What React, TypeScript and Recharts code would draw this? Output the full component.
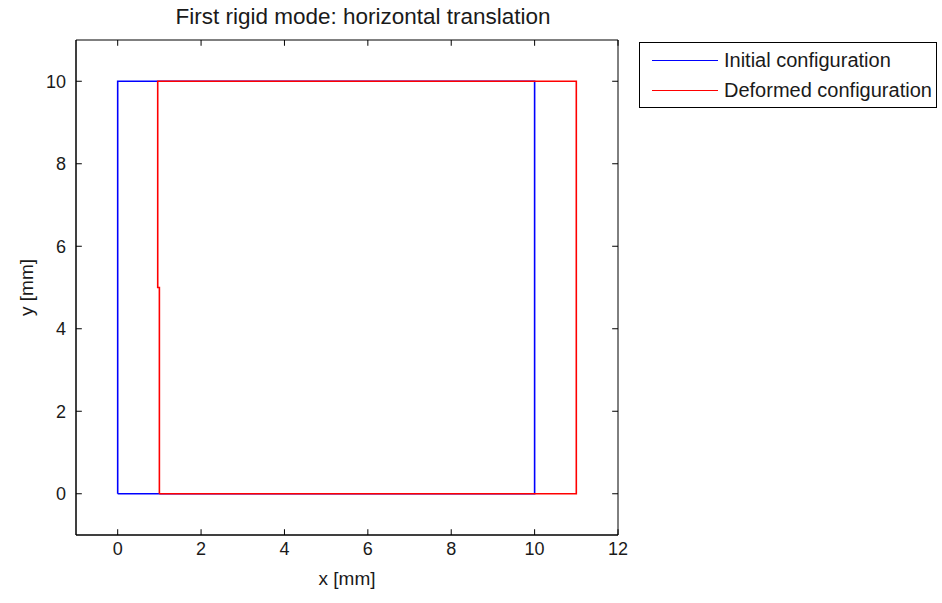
import {
  LineChart,
  Line,
  XAxis,
  YAxis,
  ReferenceLine,
  ReferenceArea,
  Label,
} from "recharts";

const initialConfig = [
  { x: 0, y: 0 },
  { x: 10, y: 0 },
  { x: 10, y: 10 },
  { x: 0, y: 10 },
  { x: 0, y: 0 },
];

const deformedConfig = [
  { x: 1, y: 0 },
  { x: 11, y: 0 },
  { x: 11, y: 10 },
  { x: 0.96, y: 10 },
  { x: 0.96, y: 5 },
  { x: 1, y: 5 },
  { x: 1, y: 0 },
];

const xTicks = [0, 2, 4, 6, 8, 10, 12];
const yTicks = [0, 2, 4, 6, 8, 10];
const xDomain: [number, number] = [-1, 12];
const yDomain: [number, number] = [-1, 11];

const FONT = "'Liberation Sans', Arial, sans-serif";
const INK = "#1a1a1a";
const tickStyle = { fill: INK, fontSize: 18, fontFamily: FONT };
const TICK_LEN = 0.14;

function Legend() {
  const row = (color: string, text: string) => (
    <div style={{ display: "flex", alignItems: "center", height: 30 }}>
      <div style={{ width: 66, height: 0, borderTop: `1.5px solid ${color}`, marginRight: 6 }} />
      <span>{text}</span>
    </div>
  );
  return (
    <div
      style={{
        position: "absolute",
        left: 639,
        top: 42,
        width: 284,
        padding: "2px 0 2px 12px",
        border: "1px solid #000",
        background: "#fff",
        fontFamily: FONT,
        fontSize: 20,
        color: INK,
        whiteSpace: "nowrap",
      }}
    >
      {row("#0000ff", "Initial configuration")}
      {row("#ff0000", "Deformed configuration")}
    </div>
  );
}

export default function App() {
  return (
    <div style={{ position: "absolute", left: 0, top: 0, width: 942, height: 603, background: "#fff" }}>
      <div
        style={{
          position: "absolute",
          left: 113,
          width: 500,
          top: 4,
          textAlign: "center",
          fontFamily: FONT,
          fontSize: 22.5,
          color: INK,
          whiteSpace: "nowrap",
        }}
      >
        First rigid mode: horizontal translation
      </div>
      <LineChart width={942} height={603} margin={{ top: 40, right: 324, bottom: 18, left: 16 }}>
        <XAxis
          type="number"
          dataKey="x"
          domain={xDomain}
          ticks={xTicks}
          allowDataOverflow
          tickSize={0}
          tickMargin={7}
          tickLine={false}
          axisLine={{ stroke: "#000" }}
          tick={tickStyle}
          height={50}
        >
          <Label
            value="x [mm]"
            position="insideBottom"
            offset={0}
            style={{ fill: INK, fontSize: 19, fontFamily: FONT }}
          />
        </XAxis>
        <YAxis
          type="number"
          dataKey="y"
          domain={yDomain}
          ticks={yTicks}
          allowDataOverflow
          tickSize={0}
          tickMargin={10}
          tickLine={false}
          axisLine={{ stroke: "#000" }}
          tick={tickStyle}
          width={60}
        >
          <Label
            value="y [mm]"
            angle={-90}
            position="insideLeft"
            offset={10}
            style={{ fill: INK, fontSize: 19, fontFamily: FONT, textAnchor: "middle" }}
          />
        </YAxis>
        <ReferenceArea
          x1={xDomain[0]}
          x2={xDomain[1]}
          y1={yDomain[0]}
          y2={yDomain[1]}
          stroke="#000"
          strokeWidth={1}
          fill="none"
          fillOpacity={0}
        />
        {xTicks.map((t) => (
          <ReferenceLine
            key={`xb${t}`}
            segment={[{ x: t, y: yDomain[0] }, { x: t, y: yDomain[0] + TICK_LEN }]}
            stroke="#000"
          />
        ))}
        {xTicks.map((t) => (
          <ReferenceLine
            key={`xt${t}`}
            segment={[{ x: t, y: yDomain[1] }, { x: t, y: yDomain[1] - TICK_LEN }]}
            stroke="#000"
          />
        ))}
        {yTicks.map((t) => (
          <ReferenceLine
            key={`yl${t}`}
            segment={[{ x: xDomain[0], y: t }, { x: xDomain[0] + TICK_LEN, y: t }]}
            stroke="#000"
          />
        ))}
        {yTicks.map((t) => (
          <ReferenceLine
            key={`yr${t}`}
            segment={[{ x: xDomain[1], y: t }, { x: xDomain[1] - TICK_LEN, y: t }]}
            stroke="#000"
          />
        ))}
        <Line
          data={initialConfig}
          dataKey="y"
          type="linear"
          stroke="#0000ff"
          strokeWidth={1.6}
          dot={false}
          activeDot={false}
          isAnimationActive={false}
        />
        <Line
          data={deformedConfig}
          dataKey="y"
          type="linear"
          stroke="#ff0000"
          strokeWidth={1.6}
          dot={false}
          activeDot={false}
          isAnimationActive={false}
        />
      </LineChart>
      <Legend />
    </div>
  );
}
